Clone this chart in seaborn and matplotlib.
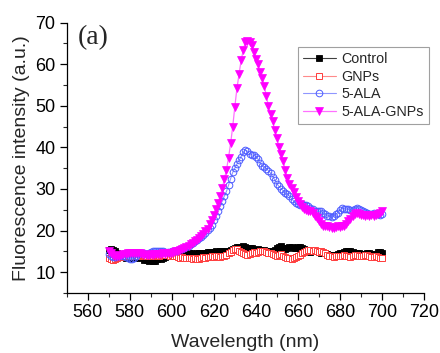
import numpy as np
import pandas as pd
import matplotlib
matplotlib.use("Agg")
import matplotlib.pyplot as plt
import seaborn as sns

wavelength = list(range(570, 701))

control = [
    15.3, 15.5, 15.4, 15.2, 14.7, 14.1, 13.7, 13.6, 13.5, 13.6,
    13.4, 13.6, 13.5, 13.4, 13.6, 13.7, 13.3, 13.0, 12.9, 12.8,
    12.9, 12.7, 12.8, 13.1, 13.3, 13.2, 13.4, 13.6, 13.8, 13.9,
    14.2, 14.4, 14.6, 14.8, 14.7, 14.9, 14.8, 14.6, 14.5, 14.7,
    14.4, 14.3, 14.5, 14.6, 14.4, 14.5, 14.7, 14.9, 14.8, 14.7,
    14.9, 15.0, 14.8, 15.1, 15.0, 14.9, 15.1, 15.2, 15.4, 15.6,
    15.8, 16.0, 16.1, 15.9, 16.2, 16.0, 15.8, 15.9, 15.7, 15.4,
    15.3, 15.5, 15.4, 15.2, 15.3, 15.1, 15.0, 14.9, 15.0, 15.4,
    15.7, 16.0, 16.2, 15.9, 15.6, 15.8, 16.1, 16.0, 15.7, 15.9,
    16.1, 16.0, 15.8, 15.6, 15.2, 15.0, 14.9, 15.1, 15.2, 15.0,
    14.8, 14.7, 14.6, 14.5, 14.3, 14.2, 14.1, 14.0, 14.2, 14.4,
    14.5, 14.6, 14.8, 15.0, 15.2, 15.1, 14.9, 14.7, 14.6, 14.5,
    14.4, 14.3, 14.4, 14.6, 14.5, 14.3, 14.1, 14.4, 14.8, 14.9,
    14.6,
]

gnps = [
    13.3, 13.1, 13.0, 13.2, 13.4, 13.6, 13.7, 13.8, 13.9, 14.0,
    13.8, 13.9, 14.0, 14.1, 14.0, 13.9, 14.1, 14.2, 14.0, 13.9,
    14.1, 14.0, 14.2, 14.1, 14.0, 14.2, 14.3, 14.1, 14.2, 14.0,
    14.1, 13.9, 13.8, 13.6, 13.5, 13.6, 13.4, 13.5, 13.3, 13.4,
    13.2, 13.3, 13.1, 13.2, 13.4, 13.6, 13.5, 13.7, 13.6, 13.8,
    13.7, 13.9, 13.8, 13.7, 13.9, 14.0, 14.2, 14.5, 14.9, 15.3,
    15.6, 15.5, 15.2, 14.8, 14.5, 14.3, 14.2, 14.4, 14.6, 14.8,
    14.7, 14.9, 15.1, 15.2, 15.0, 14.9, 14.7, 14.5, 14.3, 14.2,
    14.0, 14.1, 14.3, 14.0, 13.7, 13.5, 13.3, 13.2, 13.4, 13.6,
    13.9, 14.2, 14.5, 14.8, 15.1, 15.4, 15.3, 15.2, 15.4, 15.1,
    14.9, 15.1, 14.8, 14.5, 14.2, 14.0, 13.8, 13.7, 13.9, 14.0,
    13.8, 13.9, 14.1, 14.0, 13.8, 13.7, 13.9, 14.1, 14.2, 14.0,
    13.8, 14.0, 14.2, 14.1, 13.9, 13.7, 13.6, 13.8, 13.6, 13.5,
    13.5,
]

ala = [
    14.3, 13.8, 13.6, 13.7, 13.9, 14.0, 14.2, 14.0, 13.7, 13.4,
    13.2, 13.1, 13.4, 13.9, 14.3, 14.5, 14.6, 14.5, 14.4, 14.6,
    14.8, 15.0, 15.1, 15.2, 15.0, 15.1, 15.2, 14.9, 14.8, 14.9,
    15.0, 15.1, 15.2, 15.4, 15.5, 15.6, 15.8, 16.1, 16.3, 16.7,
    17.1, 17.5, 17.7, 18.1, 18.5, 19.0, 19.5, 20.1, 20.6, 21.4,
    22.5, 23.6, 24.8, 25.9, 27.1, 28.3, 29.4, 30.9, 32.5, 34.0,
    35.0, 36.0, 36.9, 37.8, 38.8, 39.3, 39.1, 38.5, 38.2, 38.1,
    37.8, 37.2, 36.2, 35.6, 35.3, 34.9, 34.4, 33.8, 33.0, 32.2,
    31.3, 30.6, 30.1, 29.6, 29.0, 28.7, 28.3, 27.7, 27.1, 26.6,
    26.3, 26.2, 26.3, 26.2, 26.1, 25.8, 25.4, 25.1, 24.8, 24.6,
    24.7, 24.6, 24.2, 23.9, 23.6, 23.5, 23.3, 23.4, 23.9, 24.3,
    24.9, 25.4, 25.3, 25.2, 25.1, 24.9, 25.0, 25.3, 25.5, 25.2,
    24.9, 24.8, 24.5, 24.2, 24.0, 24.1, 24.2, 24.0, 23.9, 23.8,
    23.9,
]

ala_gnps = [
    15.0, 14.6, 14.2, 14.0, 13.8, 13.9, 14.1, 14.3, 14.4, 14.5,
    14.6, 14.5, 14.6, 14.7, 14.6, 14.5, 14.3, 14.2, 14.1, 14.2,
    14.3, 14.2, 14.3, 14.4, 14.3, 14.4, 14.5, 14.4, 14.6, 14.5,
    14.6, 14.8, 15.0, 15.2, 15.4, 15.5, 15.7, 16.0, 16.3, 16.7,
    17.1, 17.4, 17.7, 18.1, 18.6, 19.1, 19.8, 20.5, 21.5, 22.6,
    23.8, 25.2, 26.7, 28.3, 30.2, 32.3, 34.6, 37.5, 41.0, 45.0,
    49.8, 54.2, 57.6, 61.0, 63.3, 65.4, 65.6, 65.4, 64.5, 63.0,
    61.3, 60.0, 58.2, 56.8, 54.8, 52.3, 49.9, 48.0, 46.3, 44.2,
    42.3, 40.2, 38.3, 36.7, 34.6, 32.6, 31.2, 30.2, 29.2, 28.0,
    27.2, 26.3, 25.7, 25.3, 25.0, 24.8, 24.6, 24.2, 23.6, 23.0,
    22.2, 21.5, 21.2, 21.1, 21.0, 20.9, 20.7, 20.6, 20.9, 21.0,
    20.9, 21.1, 21.2, 21.6, 22.2, 22.9, 23.5, 24.0, 24.2, 23.9,
    23.7, 23.8, 23.6, 23.7, 23.5, 23.8, 23.6, 23.7, 23.9, 24.3,
    24.6,
]

series_names = ["Control", "GNPs", "5-ALA", "5-ALA-GNPs"]
x_ticks = [560, 580, 600, 620, 640, 660, 680, 700, 720]
y_ticks = [10, 20, 30, 40, 50, 60, 70]

sns.set_style("ticks")
plt.rcParams['font.family'] = ['Liberation Sans', 'DejaVu Sans']

fig = plt.figure(figsize=(4.4, 3.53), dpi=100)
ax = fig.add_axes([0.1516, 0.170, 0.812, 0.766])

styles = [
    dict(color="#404040", marker="s", markersize=4, markerfacecolor="black",
         markeredgecolor="black", markeredgewidth=0.6, linewidth=0.8),
    dict(color="#ff8a8a", marker="s", markersize=4.2, markerfacecolor="white",
         markeredgecolor="#ff3b3b", markeredgewidth=0.7, linewidth=0.8),
    dict(color="#8f96ff", marker="o", markersize=4.8, markerfacecolor="none",
         markeredgecolor="#4d5cff", markeredgewidth=0.7, linewidth=0.8),
    dict(color="#ff70ff", marker="v", markersize=5.2, markerfacecolor="#ff00ff",
         markeredgecolor="#ff00ff", markeredgewidth=0.5, linewidth=0.9),
]
data = [control, gnps, ala, ala_gnps]

for name, vals, st in zip(series_names, data, styles):
    df = pd.DataFrame({"Wavelength": wavelength, "Intensity": vals})
    sns.lineplot(data=df, x="Wavelength", y="Intensity", ax=ax, label=name,
                 **st)

ax.set_xlim(550, 720)
ax.set_ylim(5, 70)
ax.set_xticks(x_ticks)
ax.set_yticks(y_ticks)
ax.set_xticks(np.arange(550, 721, 10), minor=True)
ax.set_yticks(np.arange(5, 71, 5), minor=True)
ax.tick_params(axis="both", which="major", direction="out", length=5,
               width=0.9, labelsize=13, colors="black", pad=3)
ax.tick_params(axis="both", which="minor", direction="out", length=3,
               width=0.8)
for s in ["top", "right"]:
    ax.spines[s].set_visible(False)
for s in ["left", "bottom"]:
    ax.spines[s].set_linewidth(0.9)
    ax.spines[s].set_color("black")

ax.set_xlabel("Wavelength (nm)", fontsize=14, labelpad=9)
ax.set_ylabel("Fluorescence intensity (a.u.)", fontsize=14, labelpad=4)

ax.text(0.03, 0.99, "(a)", transform=ax.transAxes, fontsize=20,
        family=["Liberation Serif", "DejaVu Serif"], va="top", ha="left")

leg = ax.legend(loc="upper left", bbox_to_anchor=(298 / 440, 1 - 47 / 353),
                bbox_transform=fig.transFigure, fontsize=10.3, frameon=True,
                fancybox=False, edgecolor="#888888", handlelength=2.3,
                handletextpad=0.4, labelspacing=0.25, borderpad=0.35,
                borderaxespad=0)
leg.get_frame().set_linewidth(0.8)

fig.savefig("out.png", dpi=100)
